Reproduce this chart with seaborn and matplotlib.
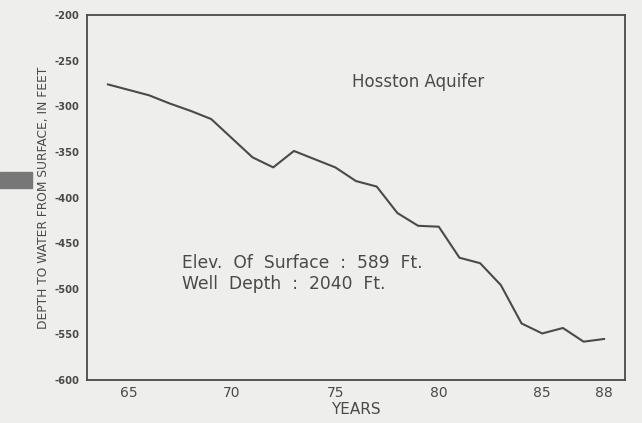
import numpy as np
import pandas as pd
import seaborn as sns
import matplotlib.pyplot as plt
from matplotlib.patches import Rectangle

# ==================== DATA ====================

years = list(range(64, 89))
depth = [-276, -282, -288, -297, -305, -314, -335, -356, -367, -349,
         -358, -367, -382, -388, -417, -431, -432, -466, -472, -496,
         -538, -549, -543, -558, -555]

y_ticks = [-200, -250, -300, -350, -400, -450, -500, -550, -600]
x_labels = [65, 70, 75, 80, 85, 88]

df = pd.DataFrame({"year": years, "depth": depth})

# ==================== PLOT ====================

sns.set_style("white")
plt.rcParams['font.family'] = ['DejaVu Sans']

bg = "#eeeeec"
ink = "#4a4a4a"

fig = plt.figure(figsize=(6.42, 4.23), dpi=100, facecolor=bg)
ax = fig.add_axes([87 / 642, 1 - 380 / 423, (625 - 87) / 642, (380 - 15) / 423])
ax.set_facecolor(bg)

sns.lineplot(data=df, x="year", y="depth", ax=ax, color=ink, linewidth=1.5)

ax.set_xlim(63, 89)
ax.set_ylim(-600, -200)

ax.set_xticks(years, minor=True)
ax.set_xticks(x_labels)
ax.set_xticklabels([str(v) for v in x_labels], fontsize=10, color=ink)
ax.set_yticks(y_ticks)
ax.set_yticklabels([str(v) for v in y_ticks], fontsize=7.2, color=ink,
                   fontweight="bold")

ax.tick_params(axis="x", which="both", direction="inout", length=7,
               width=1, color=ink, pad=1)
ax.tick_params(axis="y", which="both", direction="inout", length=7,
               width=1, color=ink, pad=2)

for s in ax.spines.values():
    s.set_visible(True)
    s.set_color(ink)
    s.set_linewidth(1.3)

ax.set_xlabel("YEARS", fontsize=11, color=ink, labelpad=1)
ax.set_ylabel("DEPTH TO WATER FROM SURFACE, IN FEET", fontsize=8.8,
              color=ink, labelpad=3)

ax.text(75.8, -273, "Hosston Aquifer", fontsize=12, color=ink, va="center")
ax.text(67.6, -472, "Elev.  Of  Surface  :  589  Ft.", fontsize=12.3,
        color=ink, va="center")
ax.text(67.6, -495, "Well  Depth  :  2040  Ft.", fontsize=12.3,
        color=ink, va="center")

# dark scan mark at the left edge
fig.patches.append(Rectangle((0, 1 - 188 / 423), 32 / 642, 16 / 423,
                             transform=fig.transFigure, color="#777777",
                             zorder=0))

plt.savefig("out.png", dpi=100, facecolor=bg)
plt.close()
